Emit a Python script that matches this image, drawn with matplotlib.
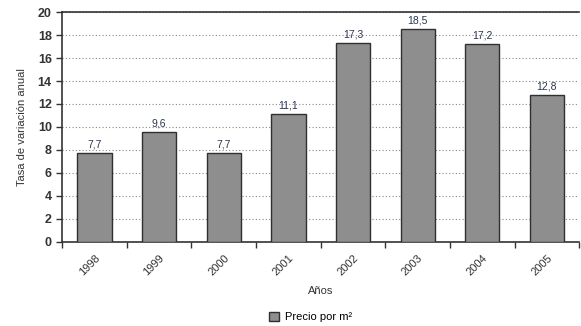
import matplotlib.pyplot as plt
import numpy as np

plt.rcParams['font.family'] = ['Liberation Sans', 'DejaVu Sans']

# tasa de variacion anual del precio por m2
anios = ['1998', '1999', '2000', '2001', '2002', '2003', '2004', '2005']
precio = [7.7, 9.6, 7.7, 11.1, 17.3, 18.5, 17.2, 12.8]
y_ticks = [0, 2, 4, 6, 8, 10, 12, 14, 16, 18, 20]

fig = plt.figure(figsize=(5.81, 3.26), dpi=100)
ax = fig.add_axes([0.107, 0.258, 0.89, 0.705])

x = np.arange(len(anios))
bars = ax.bar(x, precio, width=0.53, color='#8e8e8e', edgecolor='#303030',
              linewidth=1.0, label='Precio por m²', zorder=3)

for xi, v in zip(x, precio):
    ax.text(xi, v + 0.3, f'{v:.1f}'.replace('.', ','), ha='center', va='bottom',
            fontsize=7.5, color='#2a3550')

ax.set_xlim(-0.5, len(anios) - 0.5)
ax.set_ylim(0, 20)
ax.set_yticks(y_ticks)
ax.set_yticklabels([str(t) for t in y_ticks], fontsize=9, fontweight='bold', color='#333333')
ax.yaxis.grid(True, linestyle=(0, (1, 2)), color='#888888', linewidth=0.8, zorder=0)

# etiquetas de los anios entre marcas de separacion
ax.set_xticks(x)
ax.set_xticklabels(anios, rotation=45, ha='right', rotation_mode='anchor',
                   fontsize=8, color='#333333')
ax.tick_params(axis='x', length=0, pad=8)
ax.set_xticks(np.arange(len(anios) + 1) - 0.5, minor=True)
ax.tick_params(axis='x', which='minor', length=4, width=1.0, color='#333333')
ax.tick_params(axis='y', length=4, width=1.0, color='#333333')

for side in ['left', 'bottom', 'top']:
    ax.spines[side].set_color('#333333')
    ax.spines[side].set_linewidth(1.2)
ax.spines['right'].set_visible(False)

ax.set_ylabel('Tasa de variación anual', fontsize=8, color='#333333', labelpad=8)
ax.set_xlabel('Años', fontsize=8, color='#333333', labelpad=6)

fig.legend(handles=[bars], loc='center', bbox_to_anchor=(0.535, 0.028), frameon=False,
           fontsize=8, handlelength=0.9, handleheight=0.9, handletextpad=0.5)

fig.savefig('out.png', dpi=100)
